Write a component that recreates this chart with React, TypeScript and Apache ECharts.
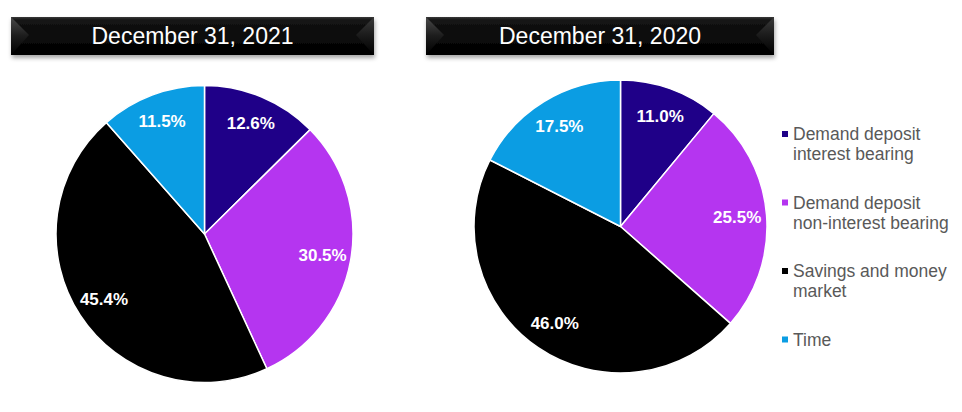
import { useEffect, useRef } from 'react';
import * as echarts from 'echarts';

const categories = [
  'Demand deposit interest bearing',
  'Demand deposit non-interest bearing',
  'Savings and money market',
  'Time',
];
const legendLines = [
  ['Demand deposit', 'interest bearing'],
  ['Demand deposit', 'non-interest bearing'],
  ['Savings and money', 'market'],
  ['Time'],
];
const colors = ['#1f0088', '#b535f0', '#000000', '#0b9de3'];
const values2021 = [12.6, 30.5, 45.4, 11.5];
const values2020 = [11.0, 25.5, 46.0, 17.5];
const titles = ['December 31, 2021', 'December 31, 2020'];

const FONT = '"Liberation Sans", Arial, sans-serif';

function titleBar(x: number, y: number, w: number, h: number, text: string) {
  return {
    type: 'group',
    children: [
      {
        type: 'rect',
        shape: { x, y, width: w, height: h },
        style: {
          fill: new echarts.graphic.LinearGradient(0, 0, 0, 1, [
            { offset: 0, color: '#3a3a3a' },
            { offset: 0.08, color: '#141414' },
            { offset: 1, color: '#000000' },
          ]),
          shadowBlur: 4,
          shadowOffsetY: 3,
          shadowOffsetX: 1,
          shadowColor: 'rgba(0,0,0,0.35)',
        },
      },
      {
        type: 'polygon',
        shape: { points: [[x, y], [x + 18, y + 18], [x, y + h]] },
        style: {
          fill: new echarts.graphic.LinearGradient(0, 0, 0, 1, [
            { offset: 0, color: '#4a4a4a' },
            { offset: 0.5, color: '#1c1c1c' },
            { offset: 1, color: '#000000' },
          ]),
        },
      },
      {
        type: 'polygon',
        shape: { points: [[x + w, y], [x + w - 18, y + 18], [x + w, y + h]] },
        style: {
          fill: new echarts.graphic.LinearGradient(0, 0, 0, 1, [
            { offset: 0, color: '#3a3a3a' },
            { offset: 0.5, color: '#1a1a1a' },
            { offset: 1, color: '#000000' },
          ]),
        },
      },
      {
        type: 'text',
        x: x + w / 2,
        y: y + h / 2,
        style: {
          text,
          fill: '#ffffff',
          font: `23px ${FONT}`,
          align: 'center',
          verticalAlign: 'middle',
        },
      },
    ],
  };
}

function pieSeries(values: number[], center: [number, number], r: number, labelR: number) {
  const data = categories.map((name, i) => ({
    name,
    value: values[i],
    itemStyle: { color: colors[i] },
  }));
  return [
    {
      type: 'pie',
      center,
      radius: [0, r],
      startAngle: 90,
      clockwise: true,
      label: { show: false },
      labelLine: { show: false },
      itemStyle: { borderColor: '#ffffff', borderWidth: 1.5 },
      data,
    },
    {
      // transparent twin that only carries the labels, placed at ~0.8 r
      type: 'pie',
      center,
      radius: [0, labelR],
      startAngle: 90,
      clockwise: true,
      silent: true,
      z: 5,
      itemStyle: { color: 'rgba(0,0,0,0)', borderWidth: 0 },
      label: {
        show: true,
        position: 'inside',
        color: '#ffffff',
        fontFamily: FONT,
        fontWeight: 'bold',
        fontSize: 17,
        formatter: (p: any) => `${Number(p.value).toFixed(1)}%`,
      },
      labelLine: { show: false },
      data: categories.map((name, i) => ({
        name,
        value: values[i],
        itemStyle: { color: 'rgba(0,0,0,0)' },
      })),
    },
  ];
}

const rich: Record<string, any> = {
  t: { fontSize: 17.5, fontFamily: FONT, color: '#595959', lineHeight: 20 },
  g: { width: 5 },
  p: { width: 11 },
};
colors.forEach((c, i) => {
  rich[`s${i}`] = { width: 6, height: 6, backgroundColor: c };
});

export default function App() {
  const ref = useRef<HTMLDivElement>(null);

  useEffect(() => {
    if (!ref.current) return;
    const chart = echarts.init(ref.current, undefined, { renderer: 'svg' });
    chart.setOption({
      animation: false,
      backgroundColor: '#ffffff',
      legend: {
        orient: 'vertical',
        left: 777,
        top: 125,
        padding: 0,
        icon: 'none',
        itemWidth: 0,
        itemHeight: 14,
        itemGap: 30.5,
        selectedMode: false,
        data: categories,
        formatter: (name: string) => {
          const i = categories.indexOf(name);
          const lines = legendLines[i];
          return lines
            .map((l, k) => (k === 0 ? `{s${i}|}{g|}{t|${l}}` : `{p|}{t|${l}}`))
            .join('\n');
        },
        textStyle: { rich },
      },
      graphic: [
        titleBar(11, 17, 363, 38, titles[0]),
        titleBar(426, 17, 348, 38, titles[1]),
      ],
      series: [
        ...pieSeries(values2021, [204.5, 234], 148.5, 234),
        ...pieSeries(values2020, [620.5, 226.5], 146.5, 228),
      ],
    });
    return () => chart.dispose();
  }, []);

  return (
    <div
      ref={ref}
      style={{ position: 'fixed', left: 0, top: 0, width: 962, height: 412 }}
    />
  );
}
